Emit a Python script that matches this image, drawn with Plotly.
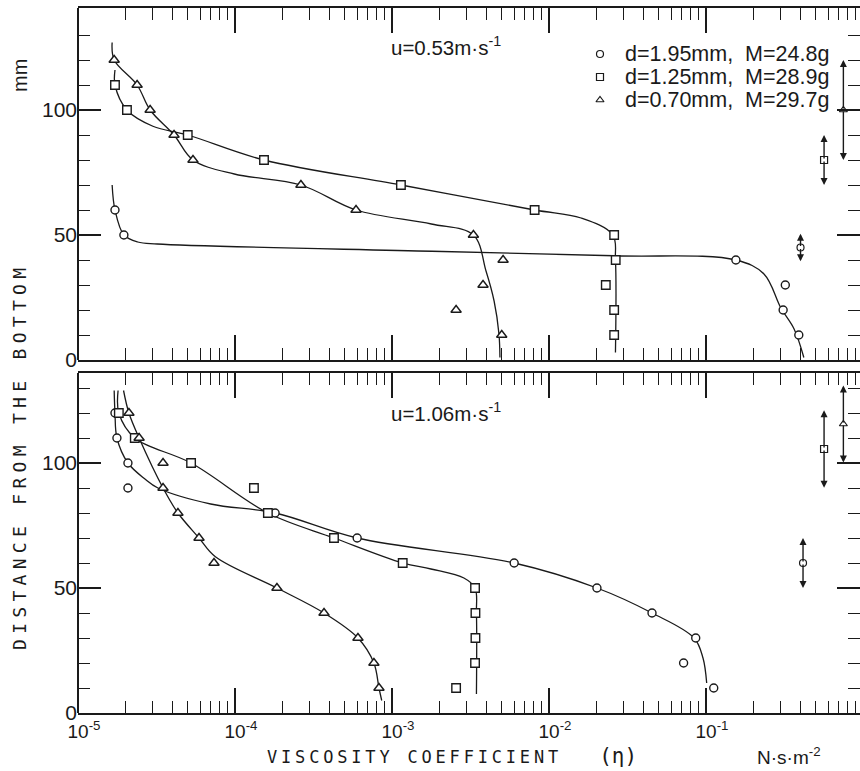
import numpy as np
import plotly.graph_objects as go

# ---------------- data (eta in N·s·m^-2, height in mm) ----------------
heights_top_c = [60, 50, 40, 30, 20, 10]
eta_top_c = [1.72e-5, 1.96e-5, 0.155, 0.32, 0.31, 0.39]
heights_top_s = [110, 100, 90, 80, 70, 60, 50, 40, 30, 20, 10]
eta_top_s = [1.72e-5, 2.05e-5, 5.0e-5, 1.53e-4, 1.14e-3, 8.1e-3, 0.026, 0.0266, 0.023, 0.026, 0.026]
heights_top_t = [120, 110, 100, 90, 80, 70, 60, 50, 40, 30, 20, 10]
eta_top_t = [1.7e-5, 2.38e-5, 2.88e-5, 4.09e-5, 5.4e-5, 2.63e-4, 5.9e-4, 3.3e-3, 5.1e-3, 3.8e-3, 2.56e-3, 5.0e-3]

heights_bot_c = [120, 110, 100, 90, 80, 70, 60, 50, 40, 30, 20, 10]
eta_bot_c = [1.72e-5, 1.77e-5, 2.08e-5, 2.08e-5, 1.8e-4, 6.0e-4, 6.0e-3, 0.0202, 0.0453, 0.086, 0.072, 0.112]
heights_bot_s = [120, 110, 100, 90, 80, 70, 60, 50, 40, 30, 20, 10]
eta_bot_s = [1.82e-5, 2.3e-5, 5.25e-5, 1.32e-4, 1.62e-4, 4.27e-4, 1.17e-3, 3.38e-3, 3.4e-3, 3.4e-3, 3.38e-3, 2.56e-3]
heights_bot_t = [120, 110, 100, 90, 80, 70, 60, 50, 40, 30, 20, 10]
eta_bot_t = [2.11e-5, 2.45e-5, 3.48e-5, 3.48e-5, 4.33e-5, 5.9e-5, 7.35e-5, 1.85e-4, 3.69e-4, 6.07e-4, 7.67e-4, 8.26e-4]

# hand-drawn fitted curves
curve_top_c_eta = [1.65e-5, 1.72e-5, 1.96e-5, 2.4e-5, 3.2e-5, 1.8e-3, 2.6e-2, 0.155, 0.234, 0.30, 0.364, 0.42]
curve_top_c_h = [70, 60, 50, 47.2, 46.4, 43.5, 41.7, 40, 34.4, 20.8, 12.4, 1]
curve_top_s_eta = [1.72e-5, 1.72e-5, 2.05e-5, 3.0e-5, 5.0e-5, 1.53e-4, 1.14e-3, 8.1e-3, 0.016, 0.0255, 0.0265, 0.0265]
curve_top_s_h = [116, 110, 100, 93.5, 90, 80, 70, 60, 56.8, 50, 40, 3]
curve_top_t_eta = [1.65e-5, 1.7e-5, 2.38e-5, 2.88e-5, 4.09e-5, 5.4e-5, 9.9e-5, 2.63e-4, 5.9e-4, 1.78e-3, 3.3e-3, 3.97e-3, 4.47e-3, 4.8e-3, 4.87e-3]
curve_top_t_h = [127, 120, 110, 100, 90, 80, 74.4, 70, 60, 54.4, 50, 35.6, 23.6, 10.4, 1]

curve_bot_c_eta = [1.7e-5, 1.72e-5, 1.77e-5, 2.08e-5, 2.67e-5, 3.23e-5, 7.0e-5, 1.8e-4, 6.0e-4, 6.0e-3, 0.0202, 0.0453, 0.084, 0.0957, 0.101]
curve_bot_c_h = [129, 120, 110, 100, 93.6, 90, 83.6, 80, 70, 60, 50, 40, 30, 22, 12]
curve_bot_s_eta = [1.8e-5, 1.82e-5, 2.3e-5, 5.25e-5, 1.62e-4, 4.27e-4, 1.17e-3, 1.77e-3, 2.87e-3, 3.38e-3, 3.45e-3, 3.45e-3]
curve_bot_s_h = [129, 120, 110, 100, 80, 70, 60, 57.6, 54, 50, 40, 7.6]
curve_bot_t_eta = [1.95e-5, 2.11e-5, 2.45e-5, 3.48e-5, 4.33e-5, 5.9e-5, 7.5e-5, 1.85e-4, 3.69e-4, 6.07e-4, 7.67e-4, 8.26e-4, 8.6e-4]
curve_bot_t_h = [129, 120, 110, 90, 80, 70, 62.5, 50, 40, 30, 20, 10, 5]

# scatter ranges (center height, half range) shown at right
err_eta_top = [0.40, 0.565, 0.75]
err_h_top = [45, 80, 100]
err_half_top = [5.5, 10, 20]
err_eta_bot = [0.415, 0.565, 0.75]
err_h_bot = [60, 105.6, 115.6]
err_half_bot = [10, 15.5, 15.4]

legend_names = ["d=1.95mm,  M=24.8g", "d=1.25mm,  M=28.9g", "d=0.70mm,  M=29.7g"]
symbols = ["circle", "square", "triangle-up"]
marker_sizes = [8, 8.5, 9]

decade_vals = [1e-5, 1e-4, 1e-3, 1e-2, 1e-1]
decade_text = ["10<sup>-5</sup>", "10<sup>-4</sup>", "10<sup>-3</sup>", "10<sup>-2</sup>", "10<sup>-1</sup>"]
minor_vals = [m * d for d in [1e-5, 1e-4, 1e-3, 1e-2, 1e-1] for m in range(2, 10)]
ymajor = [0, 50, 100]
yminor = [10, 20, 30, 40, 60, 70, 80, 90, 110, 120, 130]

INK = "#1a1a1a"
FONT = "Liberation Sans"
MONO = "DejaVu Sans Mono"

W, H, L, R, T, B = 860, 771, 78, 0, 8, 58
TOP_PANEL_BOTTOM_PX, BOT_PANEL_TOP_PX = 360, 373
def px2paper(x, y):
    return (x - L) / (W - L - R), (H - B - y) / (H - T - B)

fig = go.Figure()

panels = [
    ("x2", "y2", [(curve_top_c_eta, curve_top_c_h), (curve_top_s_eta, curve_top_s_h), (curve_top_t_eta, curve_top_t_h)],
     [(eta_top_c, heights_top_c), (eta_top_s, heights_top_s), (eta_top_t, heights_top_t)]),
    ("x", "y", [(curve_bot_c_eta, curve_bot_c_h), (curve_bot_s_eta, curve_bot_s_h), (curve_bot_t_eta, curve_bot_t_h)],
     [(eta_bot_c, heights_bot_c), (eta_bot_s, heights_bot_s), (eta_bot_t, heights_bot_t)]),
]

for xa, ya, curves, pts in panels:
    for cx, cy in curves:
        fig.add_trace(go.Scatter(x=cx, y=cy, mode="lines", xaxis=xa, yaxis=ya,
                                 line=dict(color=INK, width=1.3, shape="spline", smoothing=1.0),
                                 showlegend=False, hoverinfo="skip"))
    for i, (px_, py_) in enumerate(pts):
        fig.add_trace(go.Scatter(x=px_, y=py_, mode="markers", xaxis=xa, yaxis=ya,
                                 name=legend_names[i], showlegend=False,
                                 marker=dict(symbol=symbols[i], size=marker_sizes[i],
                                             color="white", line=dict(color=INK, width=1.4))))

# scatter-range markers and arrows
annotations = []
for xa, ya, ex, eh, ehalf in [("x2", "y2", err_eta_top, err_h_top, err_half_top),
                              ("x", "y", err_eta_bot, err_h_bot, err_half_bot)]:
    for i in range(3):
        for sgn in (1, -1):
            annotations.append(dict(x=np.log10(ex[i]), y=eh[i] + sgn * ehalf[i], xref=xa, yref=ya,
                                    ax=np.log10(ex[i]), ay=eh[i], axref=xa, ayref=ya,
                                    showarrow=True, arrowhead=2, arrowsize=1.0, arrowwidth=1.4,
                                    arrowcolor=INK, text=""))
        fig.add_trace(go.Scatter(x=[ex[i]], y=[eh[i]], mode="markers", xaxis=xa, yaxis=ya, showlegend=False,
                                 marker=dict(symbol=symbols[i], size=7,
                                             color="white", line=dict(color=INK, width=1.2))))

# custom legend (pixel layout) on an overlay axis over the top panel
leg_sym_x = 600
leg_text_x = 623
leg_rows_y = [54, 77, 100]
fig.add_trace(go.Scatter(x=[leg_sym_x] * 3, y=leg_rows_y, mode="markers", xaxis="x3", yaxis="y3",
                         showlegend=False, hoverinfo="skip",
                         marker=dict(symbol=symbols, size=7, color="white", line=dict(color=INK, width=1.2))))
for i in range(3):
    annotations.append(dict(x=leg_text_x, y=leg_rows_y[i], xref="x3", yref="y3", text=legend_names[i],
                            showarrow=False, xanchor="left", yanchor="middle",
                            font=dict(family=FONT, size=21.5, color=INK)))

for txt, (x0, y0) in [("u=0.53m·s<sup>-1</sup>", (389, 46)), ("u=1.06m·s<sup>-1</sup>", (389, 412))]:
    xp, yp = px2paper(x0, y0)
    annotations.append(dict(x=xp, y=yp, xref="paper", yref="paper", text=txt, xanchor="left",
                            yanchor="middle", showarrow=False, font=dict(family=FONT, size=20.5, color=INK)))

def spaced(s, px):
    gap = '<span style="font-size:%spx">\u00a0</span>' % px
    return gap.join(ch if ch != " " else "\u00a0" for ch in s)

tx, ty = px2paper(20, 459)
annotations.append(dict(x=tx, y=ty, xref="paper", yref="paper", text=spaced("DISTANCE FROM THE BOTTOM", 8.8),
                        textangle=-90, showarrow=False, xanchor="center", yanchor="middle",
                        font=dict(family=MONO, size=18, color=INK)))
tx, ty = px2paper(20, 76)
annotations.append(dict(x=tx, y=ty, xref="paper", yref="paper", text="mm",
                        textangle=-90, showarrow=False, xanchor="center", yanchor="middle",
                        font=dict(family=FONT, size=20, color=INK)))
tx, ty = px2paper(265, 756)
annotations.append(dict(x=tx, y=ty, xref="paper", yref="paper",
                        text=spaced("VISCOSITY COEFFICIENT", 6.3) + "\u00a0\u00a0\u00a0\u00a0"
                             + '<span style="font-size:21px">(η)</span>',
                        showarrow=False, xanchor="left", yanchor="middle",
                        font=dict(family=MONO, size=17, color=INK)))
tx, ty = px2paper(755, 756)
annotations.append(dict(x=tx, y=ty, xref="paper", yref="paper", text="N·s·m<sup>-2</sup>",
                        showarrow=False, xanchor="left", yanchor="middle",
                        font=dict(family=FONT, size=19, color=INK)))

xr = [-5, -5 + (W - L) / 157.0]
common_x = dict(type="log", range=xr, showline=True, linecolor=INK, linewidth=2, mirror="ticks",
                ticks="inside", ticklen=25, tickwidth=1.5, tickcolor=INK,
                tickvals=decade_vals, ticktext=decade_text, showgrid=False, zeroline=False,
                minor=dict(tickvals=minor_vals, ticks="inside", ticklen=12, tickwidth=1.4, tickcolor=INK,
                           showgrid=False),
                tickfont=dict(family=FONT, size=19, color=INK), ticklabelshift=6)
common_y = dict(showline=False, mirror="ticks",
                ticks="inside", ticklen=23, tickwidth=1.5, tickcolor=INK,
                tickvals=ymajor, showgrid=False, zeroline=False,
                minor=dict(tickvals=yminor, ticks="inside", ticklen=12, tickwidth=1.4, tickcolor=INK,
                           showgrid=False),
                tickfont=dict(family=FONT, size=21, color=INK))

top_lo = (H - B - TOP_PANEL_BOTTOM_PX) / (H - T - B)
bot_hi = (H - B - BOT_PANEL_TOP_PX) / (H - T - B)

shapes = [dict(type="line", xref="paper", yref="paper", x0=0, x1=0, y0=y0, y1=y1,
               line=dict(color=INK, width=2)) for y0, y1 in [(0, bot_hi), (top_lo, 1)]]

fig.update_layout(
    width=W, height=H, margin=dict(l=L, r=R, t=T, b=B),
    paper_bgcolor="white", plot_bgcolor="white",
    xaxis=dict(**common_x, anchor="y", domain=[0, 1]),
    xaxis2=dict(**common_x, anchor="y2", domain=[0, 1], matches="x", showticklabels=False),
    yaxis=dict(**common_y, anchor="x", domain=[0, bot_hi], range=[0, 340 / 2.5]),
    yaxis2=dict(**common_y, anchor="x2", domain=[top_lo, 1], range=[0, 352 / 2.5]),
    xaxis3=dict(range=[L, W - R], visible=False, anchor="y3", overlaying="x2"),
    yaxis3=dict(range=[TOP_PANEL_BOTTOM_PX, T], visible=False, anchor="x3", overlaying="y2"),
    annotations=annotations,
    shapes=shapes,
    showlegend=False,
)

fig.write_html("out.html")
